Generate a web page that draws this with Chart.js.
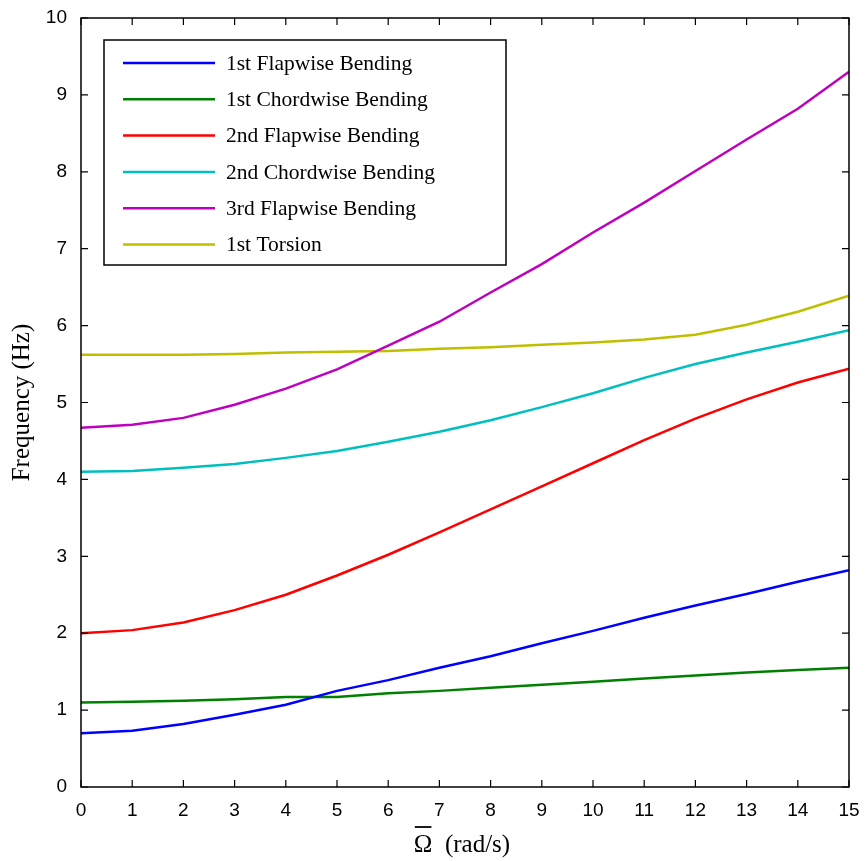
<!DOCTYPE html>
<html>
<head>
<meta charset="utf-8">
<script src="https://cdn.jsdelivr.net/npm/chart.js@4.4.1/dist/chart.umd.min.js"></script>
<style>
  html, body { margin: 0; padding: 0; background: #fff; }
  #wrap { width: 865px; height: 861px; }
</style>
</head>
<body>
<div id="wrap"><canvas id="myChart" width="865" height="861"></canvas></div>
<script>
const omega = [0, 1, 2, 3, 4, 5, 6, 7, 8, 9, 10, 11, 12, 13, 14, 15];
const flap1 = [0.70, 0.73, 0.82, 0.94, 1.07, 1.25, 1.39, 1.55, 1.70, 1.87, 2.03, 2.20, 2.36, 2.51, 2.67, 2.82];
const chord1 = [1.10, 1.11, 1.12, 1.14, 1.17, 1.17, 1.22, 1.25, 1.29, 1.33, 1.37, 1.41, 1.45, 1.49, 1.52, 1.55];
const flap2 = [2.00, 2.04, 2.14, 2.30, 2.50, 2.75, 3.02, 3.31, 3.61, 3.91, 4.21, 4.51, 4.79, 5.04, 5.26, 5.44];
const chord2 = [4.10, 4.11, 4.15, 4.20, 4.28, 4.37, 4.49, 4.62, 4.77, 4.94, 5.12, 5.32, 5.50, 5.65, 5.79, 5.94];
const flap3 = [4.67, 4.71, 4.80, 4.97, 5.18, 5.43, 5.74, 6.05, 6.43, 6.80, 7.21, 7.60, 8.01, 8.42, 8.82, 9.30];
const torsion1 = [5.62, 5.62, 5.62, 5.63, 5.65, 5.66, 5.67, 5.70, 5.72, 5.75, 5.78, 5.82, 5.88, 6.01, 6.18, 6.39];

const seriesNames = ["1st Flapwise Bending", "1st Chordwise Bending", "2nd Flapwise Bending",
  "2nd Chordwise Bending", "3rd Flapwise Bending", "1st Torsion"];
const seriesData = [flap1, chord1, flap2, chord2, flap3, torsion1];
const seriesColors = ["#0000ff", "#008000", "#ff0000", "#00bfbf", "#bf00bf", "#bfbf00"];

const serif = "'Liberation Serif', 'DejaVu Serif', serif";
const sans = "'Liberation Sans', Arial, sans-serif";

// box around the plot, inward tick marks, legend box and x title (Omega with a bar)
const framePlugin = {
  id: "frame",
  afterDraw(chart) {
    const { ctx, chartArea: a, scales } = chart;
    ctx.save();
    ctx.strokeStyle = "#000";
    ctx.lineWidth = 1.5;
    ctx.strokeRect(a.left, a.top, a.right - a.left, a.bottom - a.top);
    ctx.lineWidth = 1.2;
    ctx.beginPath();
    scales.x.ticks.forEach(t => {
      const px = scales.x.getPixelForValue(t.value);
      ctx.moveTo(px, a.bottom); ctx.lineTo(px, a.bottom - 7);
      ctx.moveTo(px, a.top); ctx.lineTo(px, a.top + 7);
    });
    scales.y.ticks.forEach(t => {
      const py = scales.y.getPixelForValue(t.value);
      ctx.moveTo(a.left, py); ctx.lineTo(a.left + 7, py);
      ctx.moveTo(a.right, py); ctx.lineTo(a.right - 7, py);
    });
    ctx.stroke();

    // legend
    const lx = 104, ly = 40, lw = 402, lh = 225;
    ctx.fillStyle = "#fff";
    ctx.fillRect(lx, ly, lw, lh);
    ctx.lineWidth = 1.5;
    ctx.strokeRect(lx, ly, lw, lh);
    ctx.font = "21.5px " + serif;
    ctx.textBaseline = "middle";
    chart.data.datasets.forEach((ds, i) => {
      const y = 63 + i * 36.3;
      ctx.strokeStyle = ds.borderColor;
      ctx.lineWidth = 2.5;
      ctx.beginPath();
      ctx.moveTo(123, y); ctx.lineTo(215, y);
      ctx.stroke();
      ctx.fillStyle = "#000";
      ctx.fillText(ds.label, 226, y + 1);
    });

    // x axis title
    ctx.font = "25px " + serif;
    ctx.fillStyle = "#000";
    ctx.strokeStyle = "#000";
    ctx.textBaseline = "alphabetic";
    const om = "Ω", rest = "  (rad/s)";
    const wOm = ctx.measureText(om).width;
    const wAll = wOm + ctx.measureText(rest).width;
    const x0 = 462 - wAll / 2;
    ctx.fillText(om, x0, 852);
    ctx.fillText(rest, x0 + wOm, 852);
    ctx.lineWidth = 1.8;
    ctx.beginPath();
    ctx.moveTo(x0 + 1, 827); ctx.lineTo(x0 + wOm - 1, 827);
    ctx.stroke();
    ctx.restore();
  }
};

const ctx = document.getElementById("myChart").getContext("2d");
new Chart(ctx, {
  type: "line",
  data: {
    labels: omega,
    datasets: seriesNames.map((name, i) => ({
      label: name,
      data: seriesData[i],
      borderColor: seriesColors[i],
      backgroundColor: seriesColors[i],
      borderWidth: 2.5,
      pointRadius: 0,
      tension: 0,
      fill: false,
    })),
  },
  options: {
    responsive: false,
    animation: false,
    layout: { padding: { top: 18, right: 16, left: 0, bottom: 0 } },
    plugins: { legend: { display: false }, tooltip: { enabled: false } },
    scales: {
      x: {
        type: "linear",
        min: 0,
        max: 15,
        afterFit(scale) { scale.height = 74; },
        ticks: { stepSize: 1, color: "#000", font: { family: sans, size: 19 }, padding: 4, maxRotation: 0 },
        grid: { display: false },
        border: { display: false },
      },
      y: {
        min: 0,
        max: 10,
        afterFit(scale) { scale.width = 81; },
        ticks: { stepSize: 1, color: "#000", font: { family: sans, size: 19 }, padding: 6 },
        grid: { display: false },
        border: { display: false },
        title: {
          display: true,
          text: "Frequency (Hz)",
          color: "#000",
          font: { family: serif, size: 25 },
          padding: { top: 7, bottom: 0 },
        },
      },
    },
  },
  plugins: [framePlugin],
});
</script>
</body>
</html>
